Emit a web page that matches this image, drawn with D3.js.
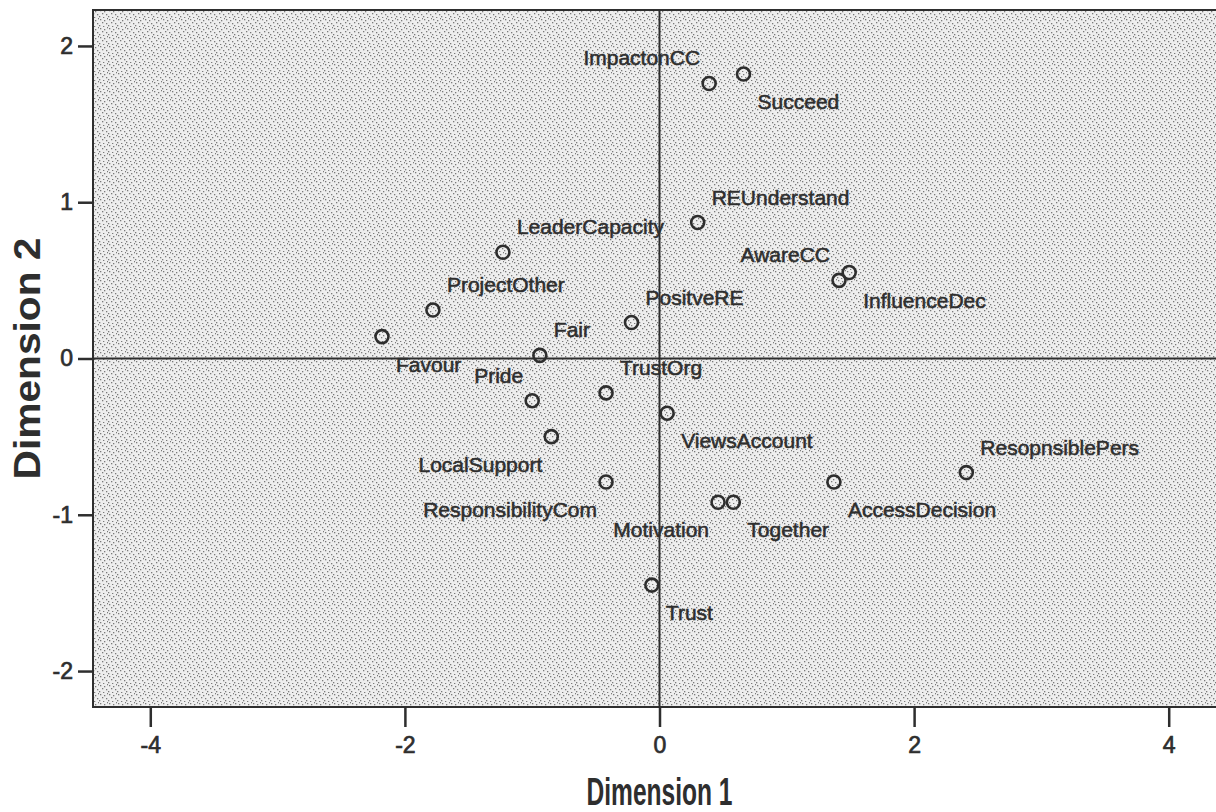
<!DOCTYPE html>
<html>
<head>
<meta charset="utf-8">
<script src="https://cdn.jsdelivr.net/npm/d3@7"></script>
<style>
    html, body { margin: 0; padding: 0; background: #fff; }
    svg { display: block; }
</style>
</head>
<body>
<div class="chart-holder"></div>
<script>
(function () {

    'use strict';

    // data
    var variableNames = ['ImpactonCC', 'Succeed', 'REUnderstand', 'LeaderCapacity', 'AwareCC', 'InfluenceDec',
        'ProjectOther', 'PositveRE', 'Favour', 'Fair', 'Pride', 'TrustOrg', 'ViewsAccount', 'LocalSupport',
        'ResponsibilityCom', 'Motivation', 'Together', 'AccessDecision', 'ResopnsiblePers', 'Trust'];

    var dimension1 = [0.39, 0.66, 0.30, -1.23, 1.41, 1.49,
        -1.78, -0.22, -2.18, -0.94, -1.00, -0.42, 0.06, -0.85,
        -0.42, 0.46, 0.58, 1.37, 2.41, -0.06];

    var dimension2 = [1.76, 1.82, 0.87, 0.68, 0.50, 0.55,
        0.31, 0.23, 0.14, 0.02, -0.27, -0.22, -0.35, -0.50,
        -0.79, -0.92, -0.92, -0.79, -0.73, -1.45];

    // where each label sits around its point: ur, lr, ul, ll
    var labelSides = ['ul', 'lr', 'ur', 'ur', 'ul', 'lr',
        'ur', 'ur', 'lr', 'ur', 'ul', 'ur', 'lr', 'll',
        'll', 'll', 'lr', 'lr', 'ur', 'lr'];

    var xTicks = [-4, -2, 0, 2, 4];
    var yTicks = [-2, -1, 0, 1, 2];

    var xTitle = 'Dimension 1';
    var yTitle = 'Dimension 2';

    var width = 1216;
    var height = 812;

    var plot = {left: 93, top: 10, right: 1226, bottom: 707};

    var ink = '#2e2e2e';
    var fontFamily = '"Liberation Sans", Arial, Helvetica, sans-serif';

    var x = d3.scaleLinear().domain([-4.45, 4.45]).range([plot.left, plot.right]);
    var y = d3.scaleLinear().domain([-2.23, 2.23]).range([plot.bottom, plot.top]);

    var points = variableNames.map(function (name, i) {
        return {name: name, d1: dimension1[i], d2: dimension2[i], side: labelSides[i]};
    });

    var svg = d3.select('.chart-holder')
        .append('svg')
        .attr('width', width)
        .attr('height', height);

    // stipple fill
    var defs = svg.append('defs');
    var pattern = defs.append('pattern')
        .attr('id', 'stipple')
        .attr('patternUnits', 'userSpaceOnUse')
        .attr('width', 9)
        .attr('height', 9);

    pattern.append('rect')
        .attr('width', 9)
        .attr('height', 9)
        .attr('fill', '#eeeeee');

    [[1, 1], [5, 2], [3, 4], [7, 5], [0, 7], [4, 8], [8, 0]].forEach(function (p) {
        pattern.append('rect')
            .attr('x', p[0])
            .attr('y', p[1])
            .attr('width', 1.3)
            .attr('height', 1.3)
            .attr('fill', '#7a7a7a');
    });

    svg.append('rect')
        .attr('x', plot.left)
        .attr('y', plot.top)
        .attr('width', plot.right - plot.left)
        .attr('height', plot.bottom - plot.top)
        .attr('fill', 'url(#stipple)')
        .attr('stroke', ink)
        .attr('stroke-width', 2);

    // zero reference lines
    svg.append('line')
        .attr('x1', x(0)).attr('x2', x(0))
        .attr('y1', plot.top).attr('y2', plot.bottom)
        .attr('stroke', ink)
        .attr('stroke-width', 2);

    svg.append('line')
        .attr('x1', plot.left).attr('x2', plot.right)
        .attr('y1', y(0)).attr('y2', y(0))
        .attr('stroke', ink)
        .attr('stroke-width', 2);

    // axes, hyphen minus as in the original
    var tickText = function (d) { return String(d); };

    var xAxis = d3.axisBottom(x)
        .tickValues(xTicks)
        .tickSize(20)
        .tickSizeOuter(0)
        .tickPadding(10)
        .tickFormat(tickText);

    var yAxis = d3.axisLeft(y)
        .tickValues(yTicks)
        .tickSize(15)
        .tickSizeOuter(0)
        .tickPadding(5)
        .tickFormat(tickText);

    var styleAxis = function (g) {
        g.select('.domain').remove();
        g.selectAll('.tick line')
            .attr('stroke', ink)
            .attr('stroke-width', 2.5);
        g.selectAll('.tick text')
            .attr('fill', ink)
            .attr('stroke', ink)
            .attr('stroke-width', 0.7)
            .style('font-family', fontFamily)
            .style('font-size', '23px');
    };

    svg.append('g')
        .attr('transform', 'translate(0,' + plot.bottom + ')')
        .call(xAxis)
        .call(styleAxis);

    svg.append('g')
        .attr('transform', 'translate(' + plot.left + ',0)')
        .call(yAxis)
        .call(styleAxis);

    // axis titles
    svg.append('text')
        .attr('x', x(0))
        .attr('y', 805)
        .attr('text-anchor', 'middle')
        .attr('textLength', 146)
        .attr('lengthAdjust', 'spacingAndGlyphs')
        .attr('fill', ink)
        .style('font-family', fontFamily)
        .style('font-weight', 'bold')
        .style('font-size', '38px')
        .text(xTitle);

    svg.append('text')
        .attr('transform', 'translate(40,' + y(0) + ') rotate(-90)')
        .attr('text-anchor', 'middle')
        .attr('textLength', 242)
        .attr('lengthAdjust', 'spacingAndGlyphs')
        .attr('fill', ink)
        .style('font-family', fontFamily)
        .style('font-weight', 'bold')
        .style('font-size', '36px')
        .text(yTitle);

    // points
    svg.append('g')
        .selectAll('circle')
        .data(points)
        .enter()
        .append('circle')
        .attr('cx', function (d) { return x(d.d1); })
        .attr('cy', function (d) { return y(d.d2); })
        .attr('r', 6.5)
        .attr('fill', 'none')
        .attr('stroke', ink)
        .attr('stroke-width', 2.6);

    // labels
    var labelDx = function (d) {
        return (d.side === 'ur' || d.side === 'lr') ? 14 : -9;
    };
    var labelDy = function (d) {
        return (d.side === 'ur' || d.side === 'ul') ? -18 : 35;
    };

    svg.append('g')
        .selectAll('text')
        .data(points)
        .enter()
        .append('text')
        .attr('x', function (d) { return x(d.d1) + labelDx(d); })
        .attr('y', function (d) { return y(d.d2) + labelDy(d); })
        .attr('text-anchor', function (d) {
            return (d.side === 'ur' || d.side === 'lr') ? 'start' : 'end';
        })
        .attr('fill', ink)
        .attr('stroke', ink)
        .attr('stroke-width', 0.55)
        .style('font-family', fontFamily)
        .style('font-size', '21px')
        .text(function (d) { return d.name; });

}());
</script>
</body>
</html>
